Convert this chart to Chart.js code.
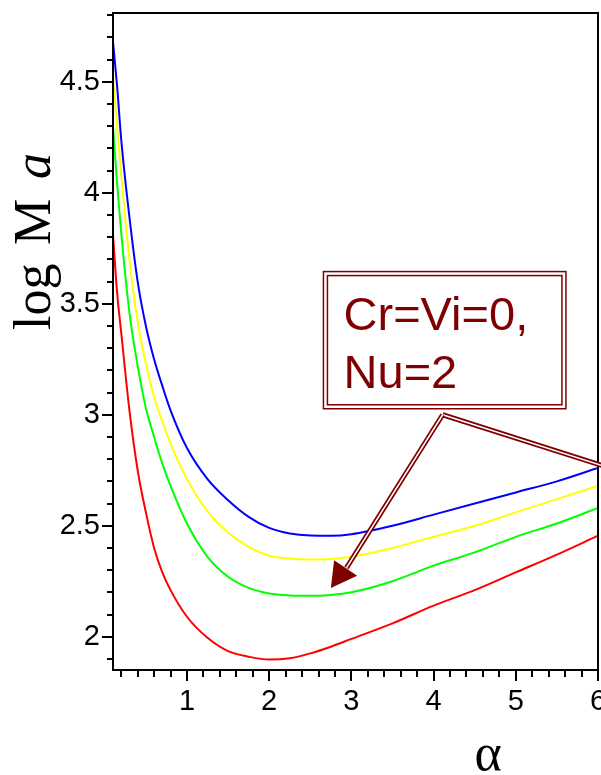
<!DOCTYPE html>
<html>
<head>
<meta charset="utf-8">
<script src="https://cdn.jsdelivr.net/npm/chart.js@4"></script>
<style>
  html, body { margin: 0; padding: 0; background: #fff; }
  #wrap { width: 601px; height: 775px; }
</style>
</head>
<body>
<div id="wrap"><canvas id="maChart" width="601" height="775"></canvas></div>
<script>
// values
var alpha    = [0.1, 0.15, 0.2, 0.3, 0.4, 0.5, 0.6, 0.7, 0.8, 1.0, 1.25, 1.5, 1.75, 2.0, 2.25, 2.5, 2.75, 3.0, 3.5, 4.0, 4.5, 5.0, 5.5, 6.0];
var blueMa   = [4.68, 4.48, 4.24, 3.89, 3.60, 3.40, 3.25, 3.13, 3.02, 2.85, 2.71, 2.615, 2.54, 2.49, 2.465, 2.456, 2.455, 2.462, 2.50, 2.55, 2.60, 2.65, 2.70, 2.76];
var yellowMa = [4.52, 4.30, 4.08, 3.70, 3.42, 3.23, 3.08, 2.97, 2.87, 2.71, 2.565, 2.47, 2.405, 2.365, 2.352, 2.348, 2.35, 2.36, 2.40, 2.45, 2.50, 2.56, 2.62, 2.68];
var greenMa  = [4.30, 4.04, 3.82, 3.46, 3.22, 3.03, 2.90, 2.78, 2.68, 2.51, 2.36, 2.27, 2.22, 2.195, 2.186, 2.184, 2.188, 2.20, 2.25, 2.32, 2.38, 2.45, 2.51, 2.58];
var redMa    = [3.81, 3.55, 3.37, 3.02, 2.75, 2.56, 2.40, 2.29, 2.21, 2.09, 1.995, 1.935, 1.91, 1.897, 1.903, 1.925, 1.955, 1.99, 2.06, 2.14, 2.21, 2.29, 2.37, 2.455];

var xTicks = [1, 2, 3, 4, 5, 6];
var yTicks = [2, 2.5, 3, 3.5, 4, 4.5];

function pts(ys) {
    return alpha.map(function (a, i) { return { x: a, y: ys[i] }; });
}

function line(ys, color) {
    return {
        data: pts(ys),
        borderColor: color,
        borderWidth: 2,
        pointRadius: 0,
        fill: false,
        cubicInterpolationMode: "monotone"
    };
}

var dark = "#7f0000";

// frame, minor/major ticks, titles and the note box
var decor = {
    id: "decor",
    afterDatasetsDraw: function (chart) {
        var c = chart.ctx, a = chart.chartArea;
        var xs = chart.scales.x, ys = chart.scales.y;
        c.save();
        c.strokeStyle = "#000";
        c.lineWidth = 2;
        c.strokeRect(a.left, a.top, a.right - a.left, a.bottom - a.top);

        // ticks on x: every 0.2, longer on whole numbers
        for (var i = 1; i <= 30; i++) {
            var px = Math.round(xs.getPixelForValue(i * 0.2));
            var len = (i % 5 === 0) ? 11 : 7;
            c.beginPath(); c.moveTo(px, a.bottom); c.lineTo(px, a.bottom + len); c.stroke();
        }
        // ticks on y: every 0.1, longer on halves
        for (var j = 19; j <= 48; j++) {
            var py = Math.round(ys.getPixelForValue(j / 10));
            var l2 = (j % 5 === 0) ? 11 : 6;
            c.beginPath(); c.moveTo(a.left, py); c.lineTo(a.left - l2, py); c.stroke();
        }

        // axis titles
        c.fillStyle = "#000";
        c.save();
        c.translate(50, 330);
        c.rotate(-Math.PI / 2);
        c.textAlign = "left";
        c.textBaseline = "alphabetic";
        c.font = "52px 'Liberation Serif', 'Times New Roman', serif";
        c.fillText("log", 0, 0);
        c.fillText("M", 85, 0);
        c.font = "italic 52px 'Liberation Serif', 'Times New Roman', serif";
        c.fillText("a", 151, 0);
        c.restore();
        c.font = "52px 'Liberation Serif', 'Times New Roman', serif";
        c.textAlign = "center";
        c.fillText("\u03b1", 488, 770);

        // note box with double border
        var bx0 = xs.getPixelForValue(2.66), bx1 = xs.getPixelForValue(5.61);
        var by0 = ys.getPixelForValue(3.645), by1 = ys.getPixelForValue(3.027);
        c.fillStyle = "#fff";
        c.fillRect(bx0, by0, bx1 - bx0, by1 - by0);
        c.strokeStyle = dark;
        c.lineWidth = 1.5;
        c.strokeRect(bx0, by0, bx1 - bx0, by1 - by0);
        c.strokeRect(bx0 + 4, by0 + 4, bx1 - bx0 - 8, by1 - by0 - 8);
        c.fillStyle = dark;
        c.font = "47px 'Liberation Sans', Arial, sans-serif";
        c.textAlign = "left";
        c.fillText("Cr=Vi=0,", xs.getPixelForValue(2.905), ys.getPixelForValue(3.383));
        c.fillText("Nu=2", xs.getPixelForValue(2.905), ys.getPixelForValue(3.122));

        // double-line arrows
        var ox = xs.getPixelForValue(4.11), oy = ys.getPixelForValue(3.0);
        var rx = xs.getPixelForValue(6.06), ry = ys.getPixelForValue(2.77);
        var tx = xs.getPixelForValue(2.75), ty = ys.getPixelForValue(2.22);
        var bx = xs.getPixelForValue(2.94), by = ys.getPixelForValue(2.31);
        function dbl(x1, y1, x2, y2) {
            c.strokeStyle = dark; c.lineWidth = 5;
            c.beginPath(); c.moveTo(x1, y1); c.lineTo(x2, y2); c.stroke();
            c.strokeStyle = "#fff"; c.lineWidth = 1.5;
            c.beginPath(); c.moveTo(x1, y1); c.lineTo(x2, y2); c.stroke();
        }
        dbl(ox, oy, rx, ry);
        dbl(ox, oy, bx, by);
        c.fillStyle = dark;
        c.beginPath();
        c.moveTo(tx, ty);
        c.lineTo(xs.getPixelForValue(2.79), ys.getPixelForValue(2.345));
        c.lineTo(xs.getPixelForValue(3.07), ys.getPixelForValue(2.275));
        c.closePath();
        c.fill();
        c.restore();
    }
};

var tickFont = { family: "'Liberation Sans', Arial, sans-serif", size: 29 };

new Chart(document.getElementById("maChart").getContext("2d"), {
    type: "line",
    data: {
        datasets: [
            line(redMa, "#ff0000"),
            line(greenMa, "#00ff00"),
            line(yellowMa, "#ffff00"),
            line(blueMa, "#0000ff")
        ]
    },
    options: {
        responsive: false,
        animation: false,
        layout: { padding: { top: 13, right: 3, left: 0, bottom: 0 } },
        plugins: { legend: { display: false }, tooltip: { enabled: false } },
        scales: {
            x: {
                type: "linear",
                min: 0.1,
                max: 6,
                grid: { display: false },
                border: { display: false },
                ticks: { font: tickFont, color: "#000", padding: 7, maxRotation: 0,
                         callback: function (v) { return String(v); } },
                afterBuildTicks: function (s) { s.ticks = xTicks.map(function (v) { return { value: v }; }); },
                afterFit: function (s) { s.height = 105; s.paddingLeft = 0; s.paddingRight = 0; }
            },
            y: {
                type: "linear",
                min: 1.85,
                max: 4.81,
                grid: { display: false },
                border: { display: false },
                ticks: { font: tickFont, color: "#000", padding: 5,
                         callback: function (v) { return String(v); } },
                afterBuildTicks: function (s) { s.ticks = yTicks.map(function (v) { return { value: v }; }); },
                afterFit: function (s) { s.width = 113; s.paddingTop = 0; s.paddingBottom = 0; }
            }
        }
    },
    plugins: [decor]
});
</script>
</body>
</html>
